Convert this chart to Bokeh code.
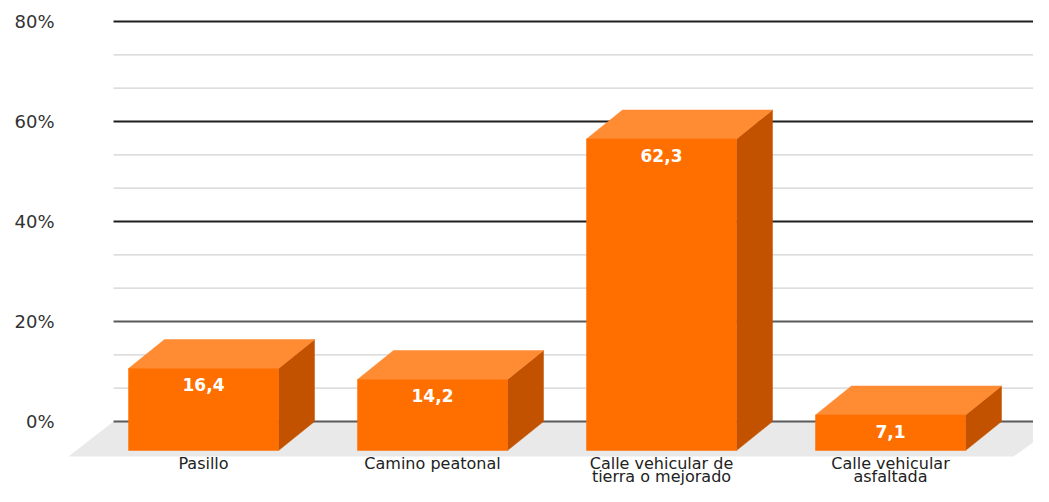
from bokeh.plotting import figure
from bokeh.models import ColumnDataSource, Range1d, FixedTicker, PrintfTickFormatter
from bokeh.core.properties import value
from bokeh.embed import file_html
from bokeh.resources import INLINE

# ---- data ----
categories = ["Pasillo", "Camino peatonal", "Calle vehicular de tierra o mejorado", "Calle vehicular asfaltada"]
label_line1 = ["Pasillo", "Camino peatonal", "Calle vehicular de", "Calle vehicular"]
label_line2 = ["", "", "tierra o mejorado", "asfaltada"]
values = [16.4, 14.2, 62.3, 7.1]
value_labels = ["16,4", "14,2", "62,3", "7,1"]
major_ticks = [0, 20, 40, 60, 80]
minor_ticks = [20 / 3, 40 / 3, 80 / 3, 100 / 3, 140 / 3, 160 / 3, 200 / 3, 220 / 3]

# ---- geometry (style) ----
PX = 1 / 229.0          # x units per pixel
HALF_W = 75 * PX        # half bar width
DX = 36 * PX            # depth offset in x
DY = 5.8                # depth offset in y (value units)
FONT = "DejaVu Sans"

p = figure(width=1033, height=486, output_backend="svg", toolbar_location=None,
           x_axis_location=None, x_range=Range1d(-0.5983, 3.6245), y_range=Range1d(-13.0, 84.2),
           min_border_left=66, min_border_right=0, min_border_top=0, min_border_bottom=0)
p.outline_line_color = None
p.grid.visible = False
p.background_fill_color = "white"

# y axis
ax = p.yaxis[0]
ax.ticker = FixedTicker(ticks=major_ticks)
ax.formatter = PrintfTickFormatter(format="%d%%")
ax.axis_line_color = None
ax.major_tick_line_color = None
ax.minor_tick_line_color = None
ax.major_label_text_font = FONT
ax.major_label_text_font_size = "18px"
ax.major_label_text_color = "#333333"
ax.major_label_standoff = 6

# floor
x_left_back = -90 * PX
x_right = 3.75
p.patch([x_left_back, x_right, 3.537, -0.5895], [0, 0, -7, -7],
        fill_color="#e9e9e9", line_color=None)

# grid lines (back plane)
p.segment(x0=[x_left_back] * len(minor_ticks), x1=[x_right] * len(minor_ticks),
          y0=minor_ticks, y1=minor_ticks, line_color="#d2d2d2", line_width=1.3)
major_colors = ["#5a5a5a", "#5a5a5a", "#1e1e1e", "#1e1e1e", "#1e1e1e"]
p.segment(x0=[x_left_back] * len(major_ticks), x1=[x_right] * len(major_ticks),
          y0=major_ticks, y1=major_ticks, line_color=major_colors, line_width=1.8)

# bars
centers = list(range(len(values)))
front_xs, front_ys, top_xs, top_ys, side_xs, side_ys = [], [], [], [], [], []
for c, v in zip(centers, values):
    l, r = c - HALF_W, c + HALF_W
    front_xs.append([l, r, r, l]); front_ys.append([-DY, -DY, v - DY, v - DY])
    top_xs.append([l, l + DX, r + DX, r]); top_ys.append([v - DY, v, v, v - DY])
    side_xs.append([r, r + DX, r + DX, r]); side_ys.append([v - DY, v, 0, -DY])

p.patches(side_xs, side_ys, fill_color="#c25200", line_color="#c25200", line_width=0.5)
p.patches(top_xs, top_ys, fill_color="#ff8b33", line_color="#ff8b33", line_width=0.5)
p.patches(front_xs, front_ys, fill_color="#ff6f00", line_color="#ff6f00", line_width=0.5)

# value labels
src = ColumnDataSource(dict(x=centers, y=[v - DY - 3.2 for v in values], t=value_labels))
p.text(x="x", y="y", text="t", source=src, text_align="center", text_baseline="middle",
       text_color="white", text_font=value(FONT), text_font_style="bold", text_font_size="17px")

# category labels
src2 = ColumnDataSource(dict(x=centers, y1=[-8.4] * 4, y2=[-11.0] * 4, t1=label_line1, t2=label_line2))
p.text(x="x", y="y1", text="t1", source=src2, text_align="center", text_baseline="alphabetic",
       text_color="#222222", text_font=value(FONT), text_font_size="16px")
p.text(x="x", y="y2", text="t2", source=src2, text_align="center", text_baseline="alphabetic",
       text_color="#222222", text_font=value(FONT), text_font_size="16px")

open("out.html", "w").write(file_html(p, INLINE))
